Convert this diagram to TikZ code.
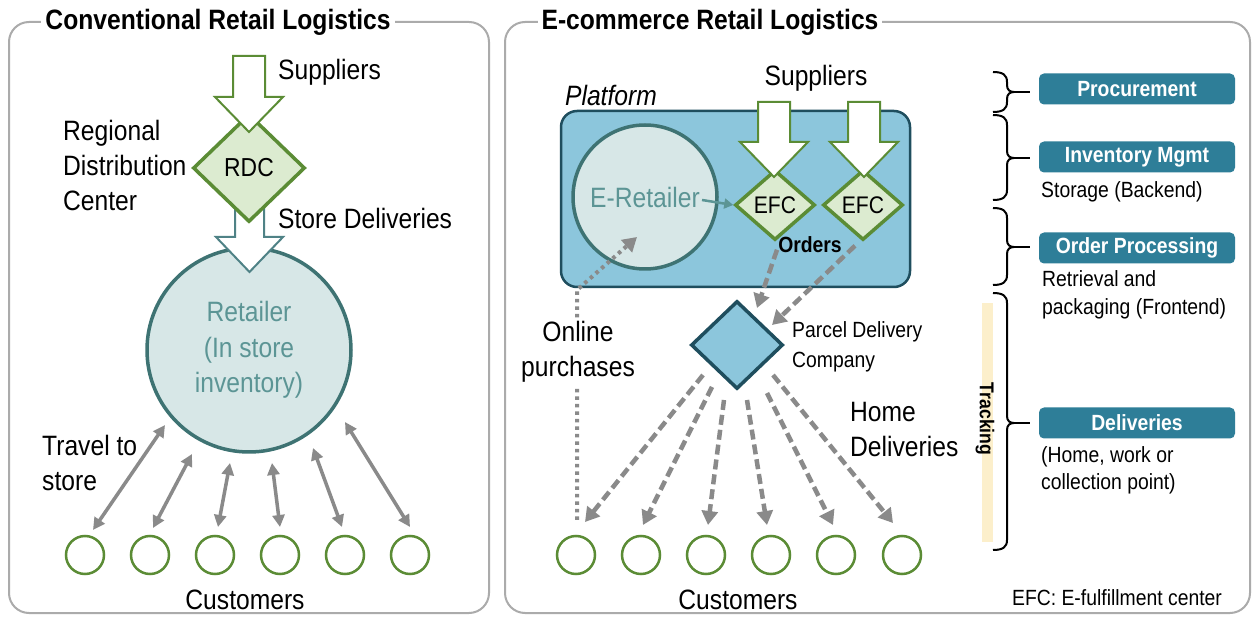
\documentclass[tikz,border=0pt]{standalone}
\usepackage{fontspec}
\setmainfont{Liberation Sans}[FakeStretch=0.88]
\usetikzlibrary{shapes.geometric,arrows.meta,calc}
\definecolor{panelgray}{HTML}{ABABAB}
\definecolor{grn}{HTML}{5B8C35}
\definecolor{grnfill}{HTML}{DCEBD0}
\definecolor{tealdk}{HTML}{3E7373}
\definecolor{tealfill}{HTML}{D7E7E7}
\definecolor{tealtxt}{HTML}{5C9595}
\definecolor{platfill}{HTML}{8CC6DC}
\definecolor{platdraw}{HTML}{1F4E5E}
\definecolor{arrgray}{HTML}{8A8A8A}
\definecolor{boxblue}{HTML}{2E7E98}
\definecolor{trackbar}{HTML}{FCEFCB}
\definecolor{sdarrow}{HTML}{4F8286}
\newcommand{\phasebrace}[3]{%
  \draw[bracestyle] (993,#1) .. controls (1003,#1) and (1007,#1+3) .. (1007,#1+10) -- (1007,#2-7)
    .. controls (1007,#2-2) and (1010,#2) .. (1014,#2)
    .. controls (1010,#2) and (1007,#2+2) .. (1007,#2+7) -- (1007,#3-10)
    .. controls (1007,#3-3) and (1003,#3) .. (993,#3);
  \draw[bracestyle] (1012,#2) -- (1030,#2);}
\tikzset{
  panel/.style={draw=panelgray, line width=2pt, rounded corners=20pt},
  paneltitle/.style={fill=white, font=\bfseries\fontsize{28}{34}\selectfont, inner sep=4pt},
  lbl/.style={font=\fontsize{28}{35}\selectfont, inner sep=0pt, align=left},
  smalllbl/.style={font=\fontsize{22}{28}\selectfont, inner sep=0pt, align=left},
  cust/.style={circle, draw=grn, line width=2.5pt, fill=white, minimum size=38pt, inner sep=0pt},
  center/.style={diamond, draw=grn, fill=grnfill, line width=3.5pt, inner sep=1pt},
  blockarr/.style={draw=grn, fill=white, line width=2pt, line join=miter},
  twoway/.style={draw=arrgray, line width=3.5pt, {Triangle[length=12pt,width=12pt]}-{Triangle[length=12pt,width=12pt]}},
  deliv/.style={draw=arrgray, line width=4.5pt, dash pattern=on 10pt off 5pt, -{Triangle[length=14pt,width=16pt]}},
  online/.style={draw=arrgray, line width=4pt, dash pattern=on 3.5pt off 4pt, -{Triangle[length=14pt,width=16pt]}},
  phasebox/.style={fill=boxblue, rounded corners=5pt, minimum width=196pt, minimum height=31pt, text=white, font=\bfseries\fontsize{22}{26}\selectfont, inner sep=0pt},
  bracestyle/.style={draw=black, line width=2pt},
}
\begin{document}
\begin{tikzpicture}[x=1pt,y=-1pt]
\useasboundingbox (0,0) rectangle (1254,617);
\fill[white] (0,0) rectangle (1254,617);

% ---------- panels ----------
\draw[panel] (9,22) rectangle (489,613);
\draw[panel] (505,22) rectangle (1250,613);
\node[paneltitle] (ltitle) at (218,22) {Conventional Retail Logistics};
\node[paneltitle] (rtitle) at (710,22) {E-commerce Retail Logistics};

% ---------- left panel ----------
\node[circle, draw=tealdk, fill=tealfill, line width=3.5pt, minimum size=204pt, inner sep=0pt,
      text=tealtxt, align=center, font=\fontsize{28}{35.5}\selectfont] (retailer) at (249,350) {Retailer\\(In store\\inventory)};
\draw[blockarr, draw=sdarrow] (235,200) -- (264,200) -- (264,237) -- (283,237) -- (249.5,272) -- (216,237) -- (235,237) -- cycle;
\node[center, minimum width=112pt, minimum height=108pt, font=\fontsize{26}{30}\selectfont] (rdc) at (249,168) {RDC};
\draw[blockarr] (233,56) -- (265,56) -- (265,97) -- (283,97) -- (249,132) -- (215,97) -- (233,97) -- cycle;

\node[lbl, anchor=west] (lsup) at (278,72) {Suppliers};
\node[lbl, anchor=west] (rdclbl) at (63,165) {Regional\\Distribution\\Center};
\node[lbl, anchor=west] (storedel) at (278,218) {Store Deliveries};
\node[lbl, anchor=west] (travel) at (42,463) {Travel to\\store};

\foreach \i/\x in {1/85,2/150,3/215,4/280,5/345,6/410}
  \node[cust] (lc\i) at (\x,555) {};
\draw[twoway] ($(lc1.center)+(8,-25)$) -- ($(retailer.center)+(-84,75)$);
\draw[twoway] ($(lc2.center)+(3,-27)$) -- ($(retailer.center)+(-57,104)$);
\draw[twoway] ($(lc3.center)+(3,-28)$) -- ($(retailer.center)+(-19,113)$);
\draw[twoway] ($(lc4.center)+(0,-28)$) -- ($(retailer.center)+(23,113)$);
\draw[twoway] ($(lc5.center)+(-3,-28)$) -- ($(retailer.center)+(64,98)$);
\draw[twoway] ($(lc6.center)+(0,-28)$) -- ($(retailer.center)+(96,72)$);
\node[lbl] (lcust) at (245,600) {Customers};

% ---------- right panel ----------
\node[lbl, font=\itshape\fontsize{28}{35}\selectfont] (platlbl) at (611,95) {Platform};
\node[draw=platdraw, fill=platfill, line width=2.5pt, rounded corners=16pt,
      minimum width=349pt, minimum height=176pt, inner sep=0pt] (platform) at (735.5,199) {};
\node[circle, draw=tealdk, fill=tealfill, line width=3.5pt, minimum size=144pt, inner sep=0pt,
      text=tealtxt, font=\fontsize{28}{35}\selectfont] (ereta) at (645,197) {E-Retailer};
\node[center, minimum width=80pt, minimum height=70pt, font=\fontsize{24}{28}\selectfont] (efc1) at (775,205) {EFC};
\node[center, minimum width=80pt, minimum height=70pt, font=\fontsize{24}{28}\selectfont] (efc2) at (863,205) {EFC};
\draw[blockarr] (758,102) -- (790,102) -- (790,142) -- (808,142) -- (774,177) -- (740,142) -- (758,142) -- cycle;
\draw[blockarr] (848,102) -- (880,102) -- (880,142) -- (898,142) -- (864,177) -- (830,142) -- (848,142) -- cycle;
\node[lbl] (rsup) at (816,78) {Suppliers};
\draw[draw=tealtxt, line width=2.5pt, -{Triangle[length=9pt,width=10pt]}] ($(ereta.center)+(57,3)$) -- (efc1.west);
\node[lbl, font=\bfseries\fontsize{22}{26}\selectfont] (orders) at (810,245) {Orders};

\node[diamond, draw=platdraw, fill=platfill, line width=3.5pt, minimum width=92pt, minimum height=88pt, inner sep=0pt] (parcel) at (737,345) {};
\node[smalllbl, anchor=west, font=\fontsize{22}{30}\selectfont] (parcellbl) at (792,347) {Parcel Delivery\\Company};
\draw[deliv] ($(efc1.south)+(2,8)$) -- ($(parcel.center)+(20,-37)$);
\draw[deliv] ($(efc2.south)+(-8,4)$) -- ($(parcel.center)+(35,-20)$);

\foreach \i/\x in {1/576,2/641,3/706,4/771,5/836,6/902}
  \node[cust] (rc\i) at (\x,555) {};
\draw[online] ($(rc1.center)+(1,-35)$) -- (577,290) -- ($(ereta.center)+(-8,40)$);
\node[lbl, align=center, fill=white, inner sep=3pt] (onlinelbl) at (578,352) {Online\\purchases};

\draw[deliv] ($(parcel.center)+(-34,30)$) -- ($(rc1.center)+(9,-33)$);
\draw[deliv] ($(parcel.center)+(-25,42)$) -- ($(rc2.center)+(2,-30)$);
\draw[deliv] ($(parcel.center)+(-13,55)$) -- ($(rc3.center)+(2,-30)$);
\draw[deliv] ($(parcel.center)+(10,55)$) -- ($(rc4.center)+(-4,-30)$);
\draw[deliv] ($(parcel.center)+(30,48)$) -- ($(rc5.center)+(-3,-30)$);
\draw[deliv] ($(parcel.center)+(36,30)$) -- ($(rc6.center)+(-9,-32)$);
\node[lbl, anchor=west] (homedel) at (850,430) {Home\\Deliveries};
\node[lbl] (rcust) at (738,600) {Customers};

% ---------- phases column ----------
\fill[trackbar] (982,303) rectangle (993,542);
\node[font=\bfseries\fontsize{20}{24}\selectfont, rotate=-90, inner sep=0pt] (tracking) at (985,419) {Tracking};
\phasebrace{72}{92}{112}
\phasebrace{115}{158}{200}
\phasebrace{208}{247}{285}
\phasebrace{293}{423}{550}
\node[phasebox] (proc) at (1137,89) {Procurement};
\node[phasebox] (inv) at (1137,157) {Inventory Mgmt};
\node[phasebox] (ordp) at (1137,248) {Order Processing};
\node[phasebox] (delv) at (1137,423) {Deliveries};
\node[smalllbl, anchor=west] (invsub) at (1041,192) {Storage (Backend)};
\node[smalllbl, anchor=west] (ordsub) at (1042,295) {Retrieval and\\packaging (Frontend)};
\node[smalllbl, anchor=west, font=\fontsize{22}{27}\selectfont] (delsub) at (1041,470) {(Home, work or\\collection point)};
\node[smalllbl] (efcnote) at (1117,598) {EFC: E-fulfillment center};
\end{tikzpicture}
\end{document}
